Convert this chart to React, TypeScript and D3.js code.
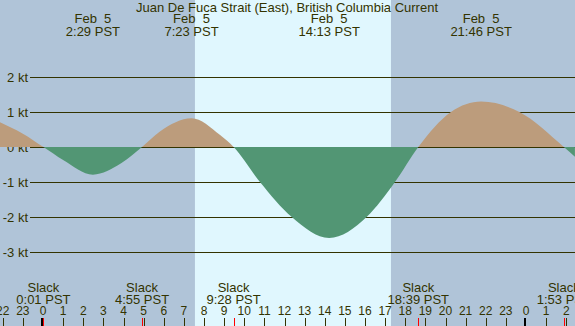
import React from 'react';
import * as d3 from 'd3';

// current curve (hour of Feb 5, knots)
const hours = [-2.14, -1.0, 0.02, 1.0, 2.48, 3.9, 4.92, 5.81, 7.38, 8.8, 9.47, 10.78, 12.36, 14.22, 16.08, 17.49, 18.65, 20.27, 21.77, 23.67, 25.88, 26.43];
const speeds = [0.71, 0.38, 0, -0.37, -0.79, -0.46, 0, 0.44, 0.82, 0.34, 0, -1.0, -2.0, -2.6, -2.0, -1.0, 0, 1.0, 1.3, 1.0, 0, -0.28];

// max flood / max ebb labels
const peakHours = [2.48, 7.38, 14.22, 21.77];
const peakTimes = ['2:29 PST', '7:23 PST', '14:13 PST', '21:46 PST'];

// slack water labels
const slackHours = [0.02, 4.92, 9.47, 18.65, 25.88];
const slackTimes = ['0:01 PST', '4:55 PST', '9:28 PST', '18:39 PST', '1:53 PST'];

const sunrise = 7.55;
const sunset = 17.29;

const ktTicks = [2, 1, 0, -1, -2, -3];
const hourTicks = d3.range(-2, 27);

const title = 'Juan De Fuca Strait (East), British Columbia Current';

export default function App() {
  const width = 575;
  const height = 326;
  const ink = '#333300';
  const font = '"Liberation Sans", Arial, sans-serif';

  const x = d3.scaleLinear().domain([0, 24]).range([43, 526]);
  const y = d3.scaleLinear().domain([-3, 2]).range([252, 77]);

  const pts: [number, number][] = hours.map((h, i) => [h, speeds[i]]);
  const area = d3.area<[number, number]>()
    .x(d => x(d[0]))
    .y0(y(0))
    .y1(d => y(d[1]))
    .curve(d3.curveMonotoneX);
  const path = area(pts) || '';

  return (
    <div style={{ position: 'fixed', left: 0, top: 0 }}>
      <svg width={width} height={height} style={{ display: 'block' }} fontFamily={font}>
        <defs>
          <clipPath id="above"><rect x={0} y={0} width={width} height={y(0)} /></clipPath>
          <clipPath id="below"><rect x={0} y={y(0)} width={width} height={height - y(0)} /></clipPath>
        </defs>
        {/* night / day background */}
        <rect x={0} y={0} width={width} height={height} fill="#b0c4d8" />
        <rect x={x(sunrise)} y={0} width={x(sunset) - x(sunrise)} height={height} fill="#e0f7fe" />

        {/* grid */}
        {ktTicks.map(k => (
          <g key={k}>
            <line x1={30} x2={width} y1={y(k) + 0.5} y2={y(k) + 0.5} stroke={ink} strokeWidth={1} shapeRendering="crispEdges" />
            <text x={28} y={y(k) + 4.5} textAnchor="end" fontSize={13} fill={ink}>{k} kt</text>
          </g>
        ))}

        {/* flood / ebb fill */}
        <path d={path} fill="#bc9c7c" clipPath="url(#above)" />
        <path d={path} fill="#529674" clipPath="url(#below)" />

        <text x={287} y={12} textAnchor="middle" fontSize={13} fill={ink}>{title}</text>

        {peakHours.map((h, i) => (
          <g key={h}>
            <text x={x(h)} y={23} textAnchor="middle" fontSize={13} fill={ink} style={{ whiteSpace: 'pre' }}>{'Feb  5'}</text>
            <text x={x(h)} y={36} textAnchor="middle" fontSize={13} fill={ink}>{peakTimes[i]}</text>
          </g>
        ))}

        {slackHours.map((h, i) => (
          <g key={h}>
            <text x={x(h)} y={292} textAnchor="middle" fontSize={13} fill={ink}>Slack</text>
            <text x={x(h)} y={304} textAnchor="middle" fontSize={13} fill={ink}>{slackTimes[i]}</text>
          </g>
        ))}

        {/* hour axis */}
        {hourTicks.map(h => {
          const hh = ((h % 24) + 24) % 24;
          const midnight = hh === 0;
          const px = Math.round(x(h)) + (midnight ? -1 : 0.5);
          return (
            <g key={h}>
              <text x={x(h)} y={315} textAnchor="middle" fontSize={12} fill={ink}>{hh}</text>
              <line x1={px} x2={px} y1={318} y2={height}
                stroke={midnight ? '#000' : ink} strokeWidth={midnight ? 2 : 1} shapeRendering="crispEdges" />
            </g>
          );
        })}
        {slackHours.map(h => (
          <line key={'s' + h} x1={Math.round(x(h)) + 0.5} x2={Math.round(x(h)) + 0.5} y1={318} y2={height}
            stroke="#ff0000" strokeWidth={1} shapeRendering="crispEdges" />
        ))}
      </svg>
    </div>
  );
}
